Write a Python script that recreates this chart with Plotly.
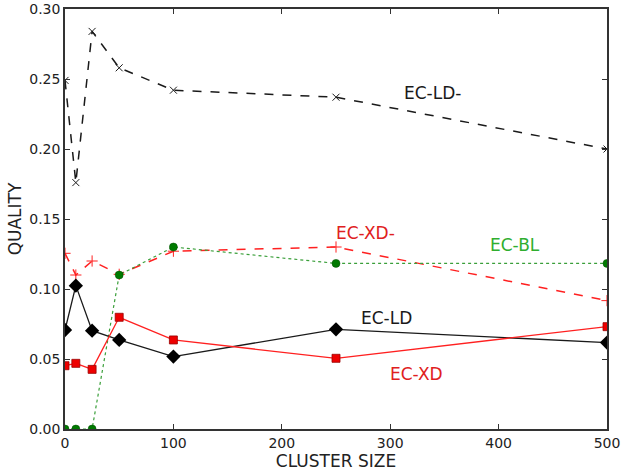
import plotly.graph_objects as go

cluster_size = [0, 10, 25, 50, 100, 250, 500]
ec_ld_minus = [0.249, 0.176, 0.284, 0.258, 0.242, 0.237, 0.200]
ec_xd_minus = [0.1255, 0.110, 0.120, 0.1105, 0.127, 0.130, 0.0917]
ec_bl = [0.0, 0.0, 0.0, 0.110, 0.130, 0.1183, 0.1183]
ec_ld = [0.0707, 0.1024, 0.0702, 0.0636, 0.0517, 0.0712, 0.0617]
ec_xd = [0.0452, 0.0469, 0.0426, 0.0798, 0.0636, 0.0505, 0.0731]

x_ticks = [0, 100, 200, 300, 400, 500]
y_ticks = [0.0, 0.05, 0.10, 0.15, 0.20, 0.25, 0.30]

labels = ["EC-LD-", "EC-XD-", "EC-BL", "EC-LD", "EC-XD"]
label_x = [339, 277, 415, 297, 324]
label_y = [0.240, 0.140, 0.1314, 0.0793, 0.0393]
label_colors = ["#1a1a1a", "#e02020", "#2fae2f", "#1a1a1a", "#e02020"]

FONT = "DejaVu Sans"

fig = go.Figure()
fig.add_trace(go.Scatter(
    x=cluster_size, y=ec_ld_minus, mode="lines+markers",
    line=dict(color="#1a1a1a", width=1.5, dash="dash"),
    marker=dict(symbol="x-thin-open", size=7, line=dict(color="#555555", width=1)),
))
fig.add_trace(go.Scatter(
    x=cluster_size, y=ec_xd_minus, mode="lines+markers",
    line=dict(color="#ff2020", width=1.5, dash="dash"),
    marker=dict(symbol="cross-thin-open", size=8, line=dict(color="#ff2020", width=1)),
))
fig.add_trace(go.Scatter(
    x=cluster_size, y=ec_bl, mode="lines+markers",
    line=dict(color="#3a9f3a", width=1.2, dash="dot"),
    marker=dict(symbol="circle", size=8, color="#007a00", line=dict(color="#004d00", width=0.5)),
))
fig.add_trace(go.Scatter(
    x=cluster_size, y=ec_ld, mode="lines+markers",
    line=dict(color="#1a1a1a", width=1.3),
    marker=dict(symbol="diamond", size=11, color="#000000"),
))
fig.add_trace(go.Scatter(
    x=cluster_size, y=ec_xd, mode="lines+markers",
    line=dict(color="#ff2020", width=1.3),
    marker=dict(symbol="square", size=8, color="#ee0000", line=dict(color="#990000", width=0.8)),
))

for t, xx, yy, c in zip(labels, label_x, label_y, label_colors):
    fig.add_annotation(x=xx, y=yy, text=t, showarrow=False,
                       font=dict(family=FONT, size=17, color=c))

fig.update_layout(
    width=621, height=471,
    margin=dict(l=65, r=14, t=9, b=42, autoexpand=False),
    paper_bgcolor="white", plot_bgcolor="white",
    showlegend=False,
    font=dict(family=FONT, size=14, color="#222222"),
)
fig.update_xaxes(
    range=[0, 500], tickvals=x_ticks, ticktext=[str(v) for v in x_ticks],
    showgrid=False, zeroline=False, showline=True, linecolor="#333333", linewidth=1.5,
    mirror="ticks", ticks="inside", ticklen=5, tickcolor="#333333",
    title=dict(text="CLUSTER SIZE", font=dict(family=FONT, size=17), standoff=0),
    tickfont=dict(family=FONT, size=14), automargin=False,
)
fig.update_yaxes(
    range=[0, 0.30], tickvals=y_ticks, ticktext=["%.2f" % v for v in y_ticks],
    showgrid=False, zeroline=False, showline=True, linecolor="#333333", linewidth=1.5,
    mirror="ticks", ticks="inside", ticklen=5, tickcolor="#333333",
    title=dict(text="QUALITY", font=dict(family=FONT, size=17), standoff=3),
    tickfont=dict(family=FONT, size=14), automargin=False,
)

fig.write_html(
    "out.html",
    config={"displayModeBar": False},
    post_script="document.body.style.margin='0';document.body.style.overflow='hidden';",
)
